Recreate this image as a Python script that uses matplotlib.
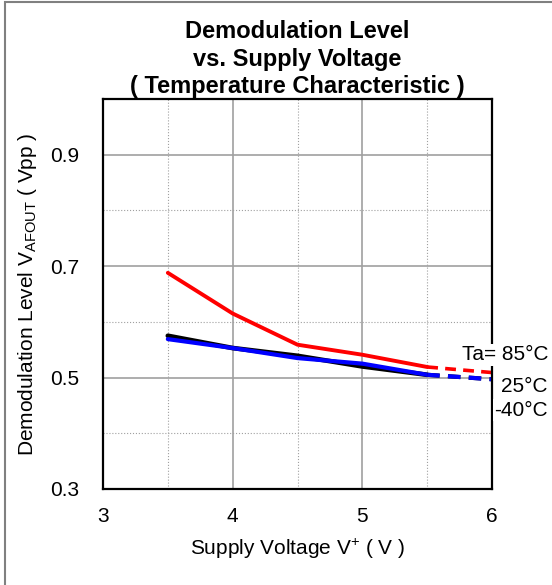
import matplotlib
matplotlib.use("Agg")
import matplotlib.pyplot as plt
from matplotlib.patches import Rectangle

plt.rcParams['font.family'] = ['Liberation Sans', 'DejaVu Sans']
plt.rcParams['mathtext.fontset'] = 'custom'
plt.rcParams['mathtext.rm'] = 'Liberation Sans'
plt.rcParams['mathtext.it'] = 'Liberation Sans'

voltage = [3.5, 4.0, 4.5, 5.0, 5.5]
voltage_ext = [5.5, 6.0]
red_85 = [0.688, 0.615, 0.559, 0.541, 0.519]
red_85_ext = [0.519, 0.509]
black_25 = [0.575, 0.553, 0.539, 0.520, 0.505]
black_25_ext = [0.505, 0.497]
blue_m40 = [0.569, 0.553, 0.535, 0.525, 0.505]
blue_m40_ext = [0.505, 0.497]
labels = ["Ta= 85°C", "25°C", "-40°C"]

fig = plt.figure(figsize=(5.52, 5.85), dpi=100)
ax = fig.add_axes([103/552, 1-489/585, (492-103)/552, (489-99)/585])

ax.set_xlim(3, 6)
ax.set_ylim(0.3, 1.0)
ax.set_xticks([3, 4, 5, 6])
ax.set_xticks([3.5, 4.5, 5.5], minor=True)
ax.set_yticks([0.3, 0.5, 0.7, 0.9])
ax.set_yticks([0.4, 0.6, 0.8], minor=True)
ax.grid(True, which='major', color='#a0a0a0', lw=1.2, ls='-')
ax.grid(True, which='minor', color='#a0a0a0', lw=0.8, ls=':')
ax.tick_params(which='both', length=0, labelsize=15)
ax.tick_params(axis='x', pad=13)
ax.tick_params(axis='y', pad=17)
for s in ax.spines.values():
    s.set_linewidth(1.6)
    s.set_color('black')
ax.set_axisbelow(True)

ax.plot(voltage, black_25, color='black', lw=3.4, solid_capstyle='round')
ax.plot(voltage, blue_m40, color='#0000ff', lw=3.0, solid_capstyle='round')
ax.plot(voltage, red_85, color='#ff0000', lw=2.8, solid_capstyle='round')
ax.plot(voltage_ext, black_25_ext, color='black', lw=3.0, ls=(0, (3, 2)))
ax.plot(voltage_ext, blue_m40_ext, color='#0000ff', lw=3.0, ls=(0, (3, 2)))
ax.plot(voltage_ext, red_85_ext, color='#ff0000', lw=2.6, ls=(0, (3, 2)))

ax.set_title("Demodulation Level\nvs. Supply Voltage\n( Temperature Characteristic )",
             fontsize=17, fontweight='bold', pad=4, linespacing=1.25)
ax.set_xlabel("Supply Voltage V$^{+}$ ( V )", fontsize=15, labelpad=8)
ax.set_ylabel("Demodulation Level V$_{\\mathrm{AFOUT}}$ ( Vpp )", fontsize=15, labelpad=8)

ypos = [355, 387, 410]
for lab, yp in zip(labels, ypos):
    fig.text(548/552, 1-yp/585, lab, ha='right', va='center', fontsize=15,
             bbox=dict(facecolor='white', edgecolor='none', pad=1.0))

fig.patches.append(Rectangle((5/552, -0.1), 1.2, 1-2/585+0.1, transform=fig.transFigure,
                             fill=False, edgecolor='#808080', lw=1.5))

fig.savefig("out.png", dpi=100)
